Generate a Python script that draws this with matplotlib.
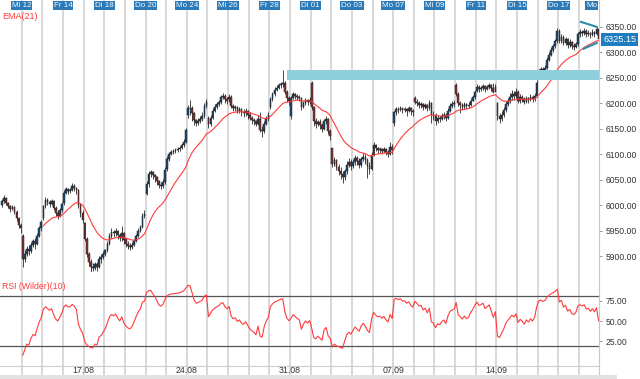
import numpy as np
import matplotlib
matplotlib.use("Agg")
import matplotlib.pyplot as plt
from matplotlib.patches import Rectangle

plt.rcParams['font.family'] = ['Liberation Sans', 'DejaVu Sans']

# hourly candles, 10 per session, Di 11.08. .. Fr 18.09.
session_open = [6000, 5940, 5975, 6005, 5965, 5905, 5935, 6022, 6072, 6178,
                6172, 6208, 6178, 6192, 6176, 6240, 6112, 6078, 6098, 6162,
                6210, 6178, 6236, 6225, 6200, 6222, 6258, 6342, 6335]

closes = [
    [6008, 6015, 6004, 5998, 5992, 5996, 5988, 5975, 5962, 5955],
    [5895, 5905, 5915, 5910, 5922, 5930, 5925, 5940, 5955, 5968],
    [5998, 6010, 6006, 6002, 6008, 5995, 5985, 5980, 5990, 6002],
    [6025, 6032, 6028, 6030, 6038, 6035, 6030, 6000, 5985, 5972],
    [5935, 5905, 5890, 5880, 5878, 5885, 5880, 5895, 5898, 5905],
    [5912, 5925, 5940, 5948, 5945, 5950, 5942, 5936, 5945, 5932],
    [5925, 5920, 5918, 5922, 5930, 5940, 5950, 5958, 5980, 5984],
    [6042, 6062, 6066, 6060, 6055, 6048, 6040, 6038, 6045, 6070],
    [6090, 6100, 6104, 6106, 6108, 6110, 6112, 6118, 6125, 6148],
    [6190, 6190, 6180, 6168, 6162, 6165, 6170, 6175, 6195, 6202],
    [6160, 6172, 6185, 6192, 6198, 6202, 6212, 6215, 6208, 6205],
    [6212, 6195, 6190, 6192, 6185, 6188, 6182, 6180, 6184, 6178],
    [6172, 6168, 6165, 6160, 6170, 6148, 6145, 6160, 6170, 6178],
    [6208, 6218, 6226, 6230, 6235, 6238, 6240, 6222, 6210, 6205],
    [6210, 6218, 6215, 6212, 6210, 6192, 6200, 6206, 6202, 6206],
    [6192, 6165, 6160, 6164, 6158, 6150, 6166, 6170, 6145, 6135],
    [6082, 6088, 6075, 6068, 6062, 6055, 6068, 6080, 6085, 6078],
    [6085, 6092, 6086, 6080, 6090, 6095, 6088, 6078, 6072, 6098],
    [6118, 6112, 6108, 6110, 6106, 6110, 6104, 6100, 6115, 6108],
    [6182, 6188, 6186, 6190, 6186, 6188, 6184, 6190, 6185, 6182],
    [6203, 6200, 6196, 6198, 6192, 6196, 6190, 6200, 6178, 6175],
    [6165, 6172, 6170, 6175, 6178, 6172, 6185, 6195, 6198, 6200],
    [6218, 6200, 6196, 6192, 6198, 6194, 6196, 6205, 6212, 6222],
    [6232, 6228, 6230, 6234, 6228, 6232, 6236, 6230, 6222, 6232],
    [6175, 6170, 6178, 6186, 6198, 6205, 6212, 6218, 6215, 6222],
    [6205, 6212, 6208, 6202, 6210, 6206, 6212, 6208, 6215, 6240],
    [6264, 6268, 6266, 6270, 6285, 6295, 6305, 6312, 6322, 6342],
    [6322, 6330, 6318, 6325, 6314, 6320, 6312, 6310, 6316, 6336],
    [6340, 6338, 6342, 6336, 6338, 6334, 6340, 6336, 6345, 6325.15],
]

highs = [
    [6012, 6020, 6016, 6006, 6000, 6000, 5998, 5990, 5978, 5966],
    [5944, 5912, 5920, 5922, 5928, 5935, 5936, 5945, 5960, 5972],
    [6000, 6016, 6014, 6010, 6012, 6010, 5998, 5990, 5995, 6006],
    [6030, 6036, 6035, 6034, 6044, 6042, 6036, 6032, 6004, 5990],
    [5968, 5938, 5908, 5895, 5888, 5890, 5890, 5900, 5905, 5910],
    [5915, 5930, 5945, 5955, 5952, 5956, 5952, 5946, 5960, 5948],
    [5935, 5930, 5926, 5928, 5934, 5944, 5955, 5962, 5985, 5990],
    [6048, 6068, 6070, 6068, 6062, 6058, 6050, 6046, 6052, 6076],
    [6096, 6105, 6108, 6110, 6112, 6114, 6116, 6122, 6130, 6152],
    [6196, 6206, 6194, 6182, 6170, 6172, 6175, 6182, 6200, 6208],
    [6176, 6178, 6190, 6198, 6202, 6206, 6216, 6220, 6218, 6212],
    [6218, 6216, 6198, 6196, 6194, 6192, 6190, 6188, 6190, 6186],
    [6182, 6176, 6172, 6168, 6178, 6182, 6155, 6165, 6175, 6182],
    [6212, 6222, 6232, 6236, 6240, 6242, 6265, 6244, 6226, 6215],
    [6214, 6222, 6220, 6218, 6216, 6212, 6205, 6210, 6208, 6212],
    [6244, 6195, 6172, 6168, 6170, 6162, 6170, 6176, 6172, 6150],
    [6112, 6094, 6090, 6082, 6075, 6068, 6072, 6086, 6092, 6090],
    [6090, 6098, 6096, 6092, 6095, 6102, 6100, 6092, 6085, 6104],
    [6124, 6120, 6115, 6114, 6112, 6114, 6112, 6108, 6124, 6120],
    [6185, 6193, 6192, 6194, 6192, 6192, 6190, 6194, 6192, 6188],
    [6214, 6208, 6204, 6202, 6200, 6200, 6198, 6206, 6202, 6185],
    [6180, 6178, 6176, 6180, 6182, 6180, 6190, 6200, 6204, 6206],
    [6240, 6222, 6204, 6200, 6202, 6200, 6202, 6210, 6216, 6226],
    [6238, 6236, 6234, 6238, 6236, 6236, 6240, 6238, 6240, 6238],
    [6202, 6180, 6184, 6192, 6204, 6210, 6220, 6226, 6224, 6230],
    [6226, 6218, 6216, 6212, 6214, 6212, 6218, 6216, 6220, 6246],
    [6268, 6272, 6272, 6274, 6290, 6300, 6310, 6316, 6326, 6348],
    [6346, 6336, 6334, 6330, 6328, 6326, 6322, 6318, 6320, 6340],
    [6346, 6344, 6348, 6346, 6344, 6340, 6346, 6342, 6350, 6348],
]

lows = [
    [5996, 6004, 6000, 5994, 5988, 5990, 5984, 5970, 5955, 5946],
    [5879, 5890, 5900, 5902, 5906, 5918, 5915, 5922, 5938, 5950],
    [5972, 5994, 6000, 5996, 6000, 5990, 5980, 5974, 5978, 5988],
    [6000, 6022, 6022, 6024, 6028, 6028, 6022, 5994, 5978, 5965],
    [5930, 5898, 5882, 5870, 5871, 5874, 5872, 5878, 5888, 5895],
    [5900, 5908, 5922, 5936, 5938, 5940, 5935, 5930, 5930, 5925],
    [5918, 5914, 5912, 5915, 5920, 5928, 5938, 5948, 5956, 5976],
    [6020, 6036, 6056, 6052, 6046, 6040, 6034, 6032, 6035, 6042],
    [6068, 6086, 6098, 6100, 6102, 6104, 6106, 6110, 6115, 6122],
    [6172, 6178, 6165, 6158, 6155, 6158, 6162, 6166, 6172, 6190],
    [6152, 6156, 6170, 6182, 6188, 6194, 6198, 6208, 6200, 6198],
    [6202, 6190, 6184, 6185, 6180, 6180, 6176, 6174, 6176, 6170],
    [6168, 6160, 6158, 6155, 6158, 6144, 6134, 6142, 6158, 6165],
    [6188, 6204, 6215, 6224, 6228, 6230, 6232, 6218, 6202, 6196],
    [6170, 6208, 6208, 6206, 6204, 6186, 6190, 6196, 6196, 6198],
    [6186, 6155, 6152, 6156, 6150, 6144, 6148, 6160, 6140, 6128],
    [6076, 6078, 6070, 6060, 6052, 6043, 6050, 6062, 6076, 6070],
    [6074, 6080, 6080, 6074, 6076, 6086, 6082, 6054, 6062, 6070],
    [6096, 6106, 6102, 6103, 6100, 6102, 6098, 6095, 6098, 6100],
    [6156, 6178, 6180, 6184, 6180, 6182, 6176, 6182, 6178, 6176],
    [6198, 6194, 6190, 6190, 6186, 6188, 6184, 6186, 6162, 6168],
    [6158, 6162, 6164, 6168, 6170, 6166, 6170, 6182, 6190, 6192],
    [6214, 6195, 6180, 6186, 6188, 6188, 6190, 6194, 6204, 6208],
    [6222, 6222, 6224, 6226, 6222, 6226, 6228, 6224, 6220, 6224],
    [6168, 6162, 6166, 6174, 6182, 6194, 6200, 6206, 6206, 6210],
    [6200, 6200, 6202, 6198, 6200, 6200, 6204, 6202, 6204, 6212],
    [6254, 6260, 6262, 6264, 6268, 6282, 6292, 6300, 6308, 6318],
    [6318, 6318, 6314, 6314, 6308, 6310, 6306, 6304, 6308, 6312],
    [6330, 6332, 6334, 6330, 6332, 6328, 6332, 6330, 6334, 6322],
]

top_labels = ['Mi 12', 'Fr 14', 'Di 18', 'Do 20', 'Mo 24', 'Mi 26', 'Fr 28',
              'Di 01', 'Do 03', 'Mo 07', 'Mi 09', 'Fr 11', 'Di 15', 'Do 17']
top_label_days = [1, 3, 5, 7, 9, 11, 13, 15, 17, 19, 21, 23, 25, 27]
week_labels = ['17.08', '24.08', '31.08', '07.09', '14.09']
week_days = [4, 9, 14, 19, 24]

price_ticks = [5900, 5950, 6000, 6050, 6100, 6150, 6200, 6250, 6300, 6350]
rsi_ticks = [25, 50, 75]
rsi_levels = [80, 20]

# resistance zone and triangle drawn on the chart
zone_start = 138
zone_low, zone_high = 6245, 6265
tri_upper = [(280, 6360), (288.6, 6349)]
tri_lower = [(281.3, 6306), (288.6, 6319)]

ema_period = 21
rsi_period = 10

# ---- build ohlc
c = np.array([v for day in closes for v in day], dtype=float)
h = np.array([v for day in highs for v in day], dtype=float)
l = np.array([v for day in lows for v in day], dtype=float)
o = np.empty_like(c)
o[1:] = c[:-1]
for d, so in enumerate(session_open):
    o[d * 10] = so
n = len(c)
x = np.arange(n)

# EMA(21)
ema = np.full(n, np.nan)
ema[ema_period - 1] = c[:ema_period].mean()
k = 2.0 / (ema_period + 1)
for i in range(ema_period, n):
    ema[i] = ema[i - 1] + k * (c[i] - ema[i - 1])

# RSI (Wilder)(10)
diff = np.diff(c)
gain = np.clip(diff, 0, None)
loss = np.clip(-diff, 0, None)
rsi = np.full(n, np.nan)
ag = gain[:rsi_period].mean()
al = loss[:rsi_period].mean()
rsi[rsi_period] = 100 - 100 / (1 + ag / al) if al > 0 else 100
for i in range(rsi_period + 1, n):
    ag = (ag * (rsi_period - 1) + gain[i - 1]) / rsi_period
    al = (al * (rsi_period - 1) + loss[i - 1]) / rsi_period
    rsi[i] = 100 - 100 / (1 + ag / al) if al > 0 else 100

# ---- figure
W, H = 640, 379
fig = plt.figure(figsize=(W / 100, H / 100), dpi=100)
ax = fig.add_axes([0, 107 / H, 599 / W, 272 / H])
ax2 = fig.add_axes([0, 4 / H, 599 / W, 103 / H])

xlim = (-1.0, 289.2)
grid_x = [10 * d - 0.5 for d in range(1, 29)]

for a in (ax, ax2):
    a.set_xlim(*xlim)
    for gx in grid_x:
        a.axvline(gx, color='#d6d6d6', lw=1.3, zorder=0)
    for s in ('top', 'left', 'bottom'):
        a.spines[s].set_visible(False)
    a.spines['right'].set_color('#c8c8c8')
    a.set_xticks([])
    a.yaxis.tick_right()
    a.tick_params(axis='y', length=2.5, width=0.6, color='#888888', pad=2,
                  labelsize=6.2, labelcolor='#333333')

# candles
up = c >= o
body_lo = np.minimum(o, c)
body_h = np.maximum(np.abs(c - o), 1.0)
ax.vlines(x, l, h, color='#2a2a2a', lw=0.6, zorder=2)
ax.bar(x, body_h, bottom=body_lo, width=0.8,
       color=np.where(up, '#1c4d78', '#8a3434'), edgecolor='#1a1a1a',
       linewidth=0.35, zorder=3)
ax.plot(x, ema, color='#ff3b3b', lw=0.8, zorder=4)

ax.add_patch(Rectangle((zone_start, zone_low), xlim[1] - zone_start,
                       zone_high - zone_low, facecolor='#8fcfdc',
                       edgecolor='none', zorder=5))
for seg in (tri_upper, tri_lower):
    ax.plot([p[0] for p in seg], [p[1] for p in seg], color='#2a8dab',
            lw=1.5, solid_capstyle='butt', zorder=6)

ax.set_ylim(5869.5, 6402.3)
ax.set_yticks(price_ticks)
ax.set_yticklabels(['%.2f' % v for v in price_ticks])

last = c[-1]
ax.annotate('%.2f' % last, xy=(1, last), xycoords=ax.get_yaxis_transform(),
            xytext=(3.0, 0), textcoords='offset points', ha='left',
            va='center', fontsize=6.6, color='white',
            bbox=dict(boxstyle='square,pad=0.2', fc='#1f7dc0', ec='none'),
            annotation_clip=False, zorder=8)

for d, lab in zip(top_label_days, top_labels):
    ax.text(10 * d - 0.5, 0.994, lab, transform=ax.get_xaxis_transform(),
            ha='center', va='top', fontsize=5.8, color='#f4f8fb',
            bbox=dict(boxstyle='square,pad=0.12', fc='#2c7bb8', ec='none'),
            zorder=9)
ax.text(0.997, 0.994, 'Mo', transform=ax.transAxes, ha='right', va='top',
        fontsize=5.8, color='#f4f8fb',
        bbox=dict(boxstyle='square,pad=0.12', fc='#2c7bb8', ec='none'),
        zorder=9)

ax.text(0.004, 0.955, 'EMA(21)', transform=ax.transAxes, ha='left', va='top',
        fontsize=6.5, color='#ff3b3b', zorder=9)

# RSI panel
ax2.set_ylim(-15.9, 109.8)
for lv in rsi_levels:
    ax2.axhline(lv, color='#555555', lw=0.9, zorder=1)
ax2.axhline(-4.9, color='#cccccc', lw=0.8, zorder=1)
ax2.plot(x, rsi, color='#ff3b3b', lw=0.8, zorder=3)
ax2.set_yticks(rsi_ticks)
ax2.set_yticklabels(['%.2f' % v for v in rsi_ticks])
ax2.text(0.004, 0.9, 'RSI (Wilder)(10)', transform=ax2.transAxes, ha='left',
         va='top', fontsize=6.3, color='#ff3b3b')
for d, lab in zip(week_days, week_labels):
    ax2.text(10 * d - 0.5, 0.045, lab, transform=ax2.get_xaxis_transform(),
             ha='center', va='center', fontsize=6.3, color='#333333')

fig.patches.append(Rectangle((0, 0), 617 / W, 4 / H, transform=fig.transFigure,
                             facecolor='#e2e2e2', edgecolor='none'))

fig.savefig('out.png', dpi=100)
